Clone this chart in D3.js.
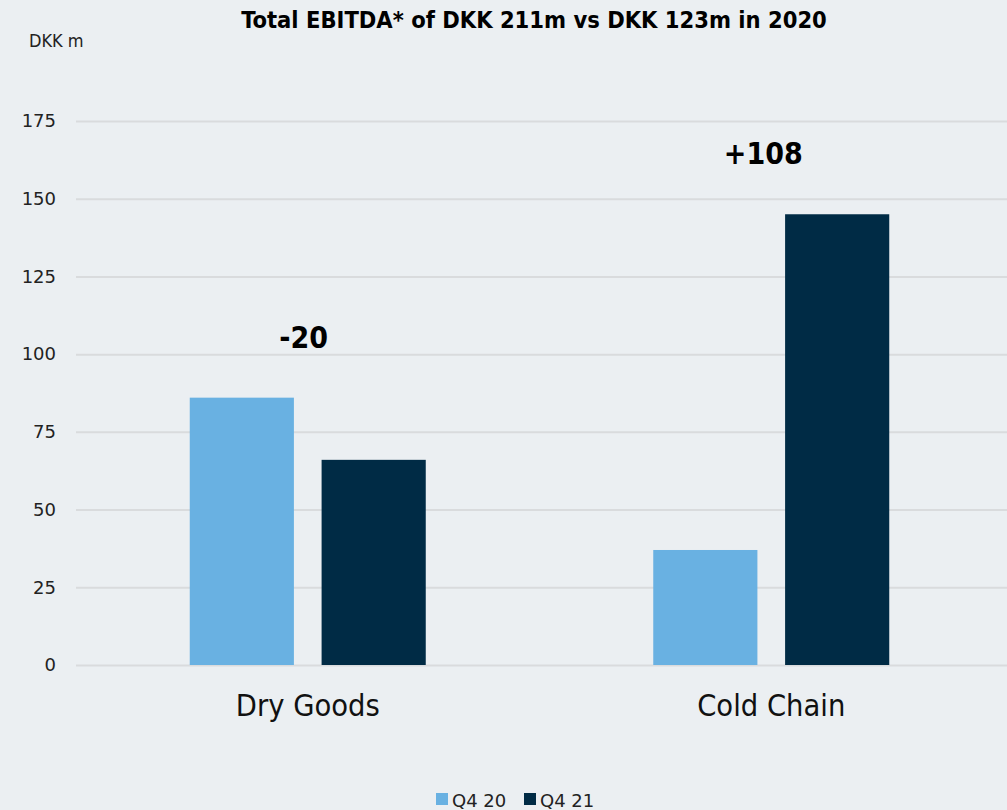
<!DOCTYPE html>
<html><head><meta charset="utf-8">
<script src="https://cdn.jsdelivr.net/npm/d3@7"></script>
<style>
html,body{margin:0;padding:0;background:#ebeff2;}
svg{display:block;}
</style></head><body>
<svg id="c" width="1007" height="810"></svg>
<script>
const categories = ["Dry Goods", "Cold Chain"];
const seriesNames = ["Q4 20", "Q4 21"];
const q420 = [86, 37];
const q421 = [66, 145];
const changeLabels = ["-20", "+108"];
const yTicks = [0, 25, 50, 75, 100, 125, 150, 175];
const colors = ["#69b1e2", "#002b45"];

const svg = d3.select("#c");
const W = 1007, H = 810;
svg.append("rect").attr("width", W).attr("height", H).attr("fill", "#ebeff2");

const x0 = d3.scaleBand().domain(categories).range([76, 1003]).paddingInner(0).paddingOuter(0);
const x1 = d3.scaleBand().domain(seriesNames).range([0, 236]).paddingInner(0.21).paddingOuter(0);
const y = d3.scaleLinear().domain([0, 175]).range([665, 121]);

const font = "'DejaVu Sans Condensed', 'DejaVu Sans', sans-serif";
const fontReg = "'DejaVu Sans', sans-serif";

// gridlines
const yAxis = d3.axisLeft(y).tickValues(yTicks).tickSize(0).tickPadding(20);
const gAxis = svg.append("g").attr("transform", "translate(76,0)").call(yAxis);
gAxis.select(".domain").remove();
gAxis.selectAll("text").attr("font-family", fontReg).attr("font-size", 18).attr("fill", "#222").attr("x", -20);
gAxis.selectAll(".tick").append("line").attr("x1", 0).attr("x2", W - 76)
  .attr("stroke", "#d9dbdd").attr("stroke-width", 2);

// bars
const data = categories.map((c, i) => ({cat: c, vals: [q420[i], q421[i]], label: changeLabels[i]}));
const groups = svg.append("g").selectAll("g").data(data).join("g")
  .attr("transform", d => `translate(${x0(d.cat) + (x0.bandwidth() - 236) / 2},0)`);
groups.selectAll("rect").data(d => d.vals.map((v, j) => ({s: seriesNames[j], v, j})))
  .join("rect")
  .attr("x", d => x1(d.s)).attr("width", x1.bandwidth())
  .attr("y", d => y(d.v)).attr("height", d => y(0) - y(d.v))
  .attr("fill", d => colors[d.j]);

// change labels
groups.append("text")
  .attr("x", (d, i) => i === 0 ? 114 : 110)
  .attr("y", d => y(d3.max(d.vals)) - 50)
  .attr("text-anchor", "middle")
  .attr("font-family", font).attr("font-weight", "bold").attr("font-size", 30)
  .attr("fill", "#000").text(d => d.label);

// category labels
svg.append("g").selectAll("text").data(categories).join("text")
  .attr("x", d => x0(d) + x0.bandwidth() / 2)
  .attr("y", 716)
  .attr("text-anchor", "middle")
  .attr("font-family", font).attr("font-size", 30.5).attr("fill", "#111")
  .text(d => d);

// title
svg.append("text").attr("x", 534).attr("y", 28).attr("text-anchor", "middle")
  .attr("font-family", font).attr("font-weight", "bold").attr("font-size", 23.5)
  .attr("fill", "#000").text("Total EBITDA* of DKK 211m vs DKK 123m in 2020");

svg.append("text").attr("x", 29).attr("y", 47)
  .attr("font-family", font).attr("font-size", 18).attr("fill", "#222").text("DKK m");

// legend
const legend = svg.append("g");
const legendX = [436, 524];
seriesNames.forEach((s, i) => {
  const g = legend.append("g").attr("transform", `translate(${legendX[i]},0)`);
  g.append("rect").attr("x", 0).attr("y", 793).attr("width", 12).attr("height", 12).attr("fill", colors[i]);
  g.append("text").attr("x", 16).attr("y", 807).attr("font-family", fontReg).attr("font-size", 18)
    .attr("fill", "#222").text(s);
});
</script>
</body></html>
